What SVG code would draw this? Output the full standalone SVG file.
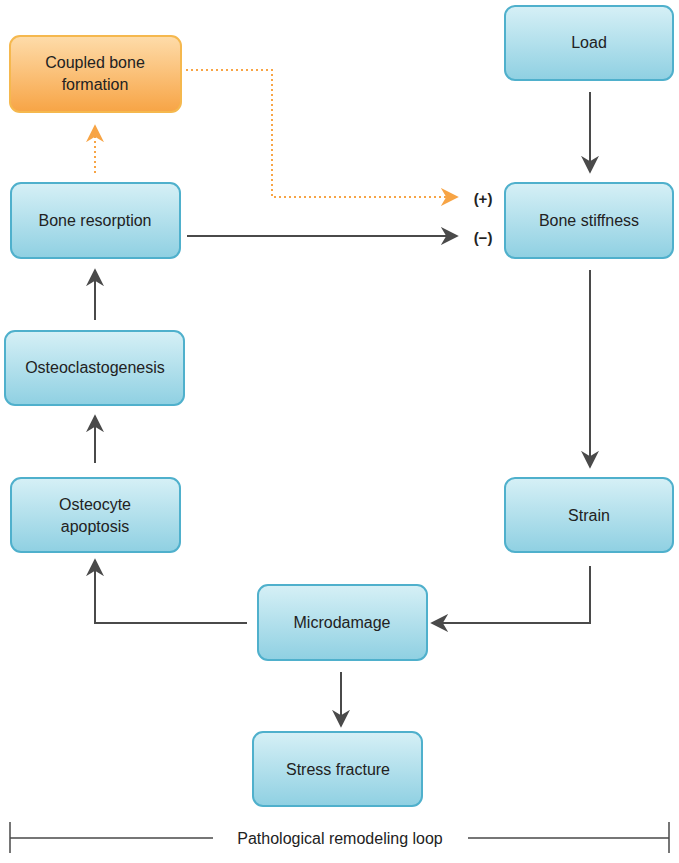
<svg xmlns="http://www.w3.org/2000/svg" width="679" height="863" viewBox="0 0 679 863">
<defs>
<linearGradient id="gb" x1="0" y1="0" x2="0" y2="1"><stop offset="0" stop-color="#d6f0f6"/><stop offset="1" stop-color="#8fd0e2"/></linearGradient>
<linearGradient id="go" x1="0" y1="0" x2="0" y2="1"><stop offset="0" stop-color="#fedcaa"/><stop offset="1" stop-color="#f7a445"/></linearGradient>
<marker id="ad" viewBox="0 0 10 10" refX="9" refY="5" markerWidth="18" markerHeight="18" markerUnits="userSpaceOnUse" orient="auto"><path d="M0,0 L10,5 L0,10 L3,5 z" fill="#4a4a4a"/></marker>
<marker id="ao" viewBox="0 0 10 10" refX="9" refY="5" markerWidth="18" markerHeight="18" markerUnits="userSpaceOnUse" orient="auto"><path d="M0,0 L10,5 L0,10 L3,5 z" fill="#f7a445"/></marker>
</defs>
<style>
.b rect{fill:url(#gb);stroke:#4fb0cc;stroke-width:2}
.o rect{fill:url(#go);stroke:#f5b84e;stroke-width:2}
text{font-family:"Liberation Sans",Arial,sans-serif;font-size:16px;fill:#222;text-anchor:middle}
.c{fill:none;stroke:#4a4a4a;stroke-width:2;marker-end:url(#ad)}
.d{fill:none;stroke:#f7a445;stroke-width:2;stroke-dasharray:2 3;marker-end:url(#ao)}
</style>
<rect width="679" height="863" fill="#fff"/>
<g id="coupled" class="o"><rect x="10" y="36" width="171" height="76" rx="10"/><text x="95" y="68">Coupled bone</text><text x="95" y="90">formation</text></g>
<g id="load" class="b"><rect x="505" y="6" width="168" height="74" rx="10"/><text x="589" y="48">Load</text></g>
<g id="resorption" class="b"><rect x="11" y="183" width="169" height="75" rx="10"/><text x="95" y="226">Bone resorption</text></g>
<g id="stiffness" class="b"><rect x="505" y="183" width="168" height="75" rx="10"/><text x="589" y="226">Bone stiffness</text></g>
<g id="osteoclasto" class="b"><rect x="5" y="331" width="179" height="74" rx="10"/><text x="95" y="373">Osteoclastogenesis</text></g>
<g id="apoptosis" class="b"><rect x="11" y="478" width="169" height="74" rx="10"/><text x="95" y="510">Osteocyte</text><text x="95" y="532">apoptosis</text></g>
<g id="strain" class="b"><rect x="505" y="478" width="168" height="74" rx="10"/><text x="589" y="521">Strain</text></g>
<g id="microdamage" class="b"><rect x="258" y="585" width="169" height="75" rx="10"/><text x="342" y="628">Microdamage</text></g>
<g id="fracture" class="b"><rect x="253" y="732" width="169" height="74" rx="10"/><text x="338" y="775">Stress fracture</text></g>
<g id="connectors">
<path class="c" d="M590,92 V172"/>
<path class="c" d="M590,270 V467"/>
<path class="c" d="M590,566 V623 H432"/>
<path class="c" d="M247,623 H95 V560"/>
<path class="c" d="M95,463 V416"/>
<path class="c" d="M95,320 V270"/>
<path class="c" d="M187,236 H457"/>
<path class="c" d="M341,672 V726"/>
<path class="d" d="M95,173 V126"/>
<path class="d" d="M186,70 H272 V197 H457"/>
<text x="483" y="204" style="font-weight:bold;font-size:15px">(+)</text>
<text x="483" y="243" style="font-weight:bold;font-size:15px">(−)</text>
</g>
<g id="bar">
<path d="M10,822 V853 M669,822 V853 M10,838 H213 M468,838 H669" stroke="#4a4a4a" stroke-width="1.5" fill="none"/>
<text x="340" y="844">Pathological remodeling loop</text>
</g>
</svg>
